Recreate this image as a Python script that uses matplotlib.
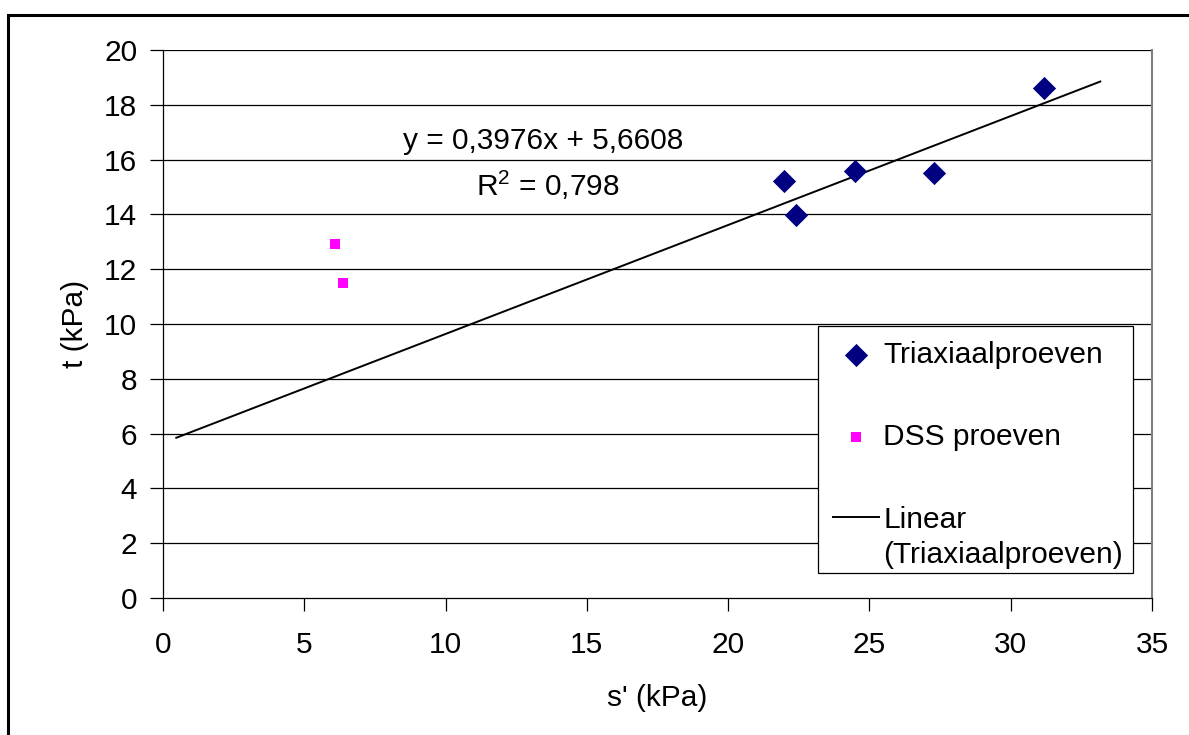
import numpy as np
import matplotlib
matplotlib.use("Agg")
import matplotlib.pyplot as plt
from matplotlib.patches import Rectangle
from matplotlib.legend_handler import HandlerLine2D

plt.rcParams['font.family'] = ['Liberation Sans', 'DejaVu Sans']
plt.rcParams['mathtext.fontset'] = 'custom'
plt.rcParams['mathtext.rm'] = 'Liberation Sans'
plt.rcParams['mathtext.it'] = 'Liberation Sans'

# Triaxial test results (s', t) in kPa
triax_s = [21.97, 22.40, 24.49, 27.28, 31.17]
triax_t = [15.22, 13.98, 15.58, 15.51, 18.61]

# Direct simple shear results
dss_s = [6.09, 6.36]
dss_t = [12.91, 11.51]

# Linear trendline of the triaxial series
slope = 0.3976
intercept = 5.6608
r_squared = 0.798
trend_range = [0.47, 33.17]

x_ticks = list(range(0, 36, 5))
y_ticks = list(range(0, 21, 2))

FS = 21.5
W, H = 1189, 735


class FirstLineHandler(HandlerLine2D):
    """Line handle drawn level with the first line of a two-line label."""

    def create_artists(self, legend, orig_handle, xdescent, ydescent,
                       width, height, fontsize, trans):
        artists = super().create_artists(legend, orig_handle, xdescent, ydescent,
                                         width, height, fontsize, trans)
        for a in artists:
            a.set_ydata(np.asarray(a.get_ydata()) + 0.7 * fontsize)
        return artists


fig = plt.figure(figsize=(W / 100, H / 100), dpi=100)
fig.patch.set_facecolor('white')
fig.add_artist(Rectangle((8 / W, -0.05), 1.2, 1 - 15 / H + 0.05,
                         transform=fig.transFigure, fill=False,
                         edgecolor='black', lw=2.2))

ax = fig.add_axes([163 / W, 1 - 598 / H, (1152 - 163) / W, (598 - 50) / H])
ax.set_xlim(0, 35)
ax.set_ylim(0, 20)
ax.set_xticks(x_ticks)
ax.set_yticks(y_ticks)

for y in y_ticks[1:]:
    ax.axhline(y, color='#000000', lw=0.9, zorder=1)

ax.spines['top'].set_visible(False)
ax.spines['right'].set_color('#808080')
ax.spines['right'].set_linewidth(1.5)
for side in ['left', 'bottom']:
    ax.spines[side].set_color('#000000')
    ax.spines[side].set_linewidth(0.9)

ax.tick_params(direction='out', length=9.5, width=0.9, labelsize=FS)
ax.tick_params(axis='x', pad=14)
ax.tick_params(axis='y', pad=9)

tx = np.array(trend_range)
trend_line, = ax.plot(tx, slope * tx + intercept, color='black', lw=1.4, zorder=3,
                      label='Linear\n(Triaxiaalproeven)')
ax.scatter(triax_s, triax_t, marker='D', s=140, color='#000080', zorder=4,
           label='Triaxiaalproeven', linewidths=0)
ax.scatter(dss_s, dss_t, marker='s', s=62, color='#FF00FF', zorder=4,
           label='DSS proeven', linewidths=0)


def fmt(v, nd):
    return f"{v:.{nd}f}".replace('.', ',')


ax.text(13.45, 16.39, f"y = {fmt(slope, 4)}x + {fmt(intercept, 4)}",
        fontsize=FS, ha='center', va='baseline')
ax.text(13.62, 14.67, f"R$^2$ = {fmt(r_squared, 3)}",
        fontsize=FS, ha='center', va='baseline')

ax.set_xlabel("s' (kPa)", fontsize=FS, labelpad=18)
ax.set_ylabel("t (kPa)", fontsize=FS, labelpad=11)

handles, labels = ax.get_legend_handles_labels()
order = [1, 2, 0]
fig.add_artist(Rectangle((818 / W, 1 - 573 / H), (1133 - 818) / W, (573 - 326) / H,
                         transform=fig.transFigure, facecolor='white',
                         edgecolor='#000000', lw=0.9, zorder=5))
leg = fig.legend([handles[i] for i in order], [labels[i] for i in order],
                 loc='upper left', bbox_to_anchor=(818 / W, 1 - 326 / H),
                 borderaxespad=0, fontsize=FS, frameon=False,
                 labelspacing=1.82, handlelength=1.54,
                 handletextpad=0.15, borderpad=0.5, scatterpoints=1,
                 handler_map={trend_line: FirstLineHandler()})
for t in leg.get_texts():
    t.set_linespacing(1.32)
leg.set_zorder(6)

fig.savefig('out.png', dpi=100, facecolor='white')
